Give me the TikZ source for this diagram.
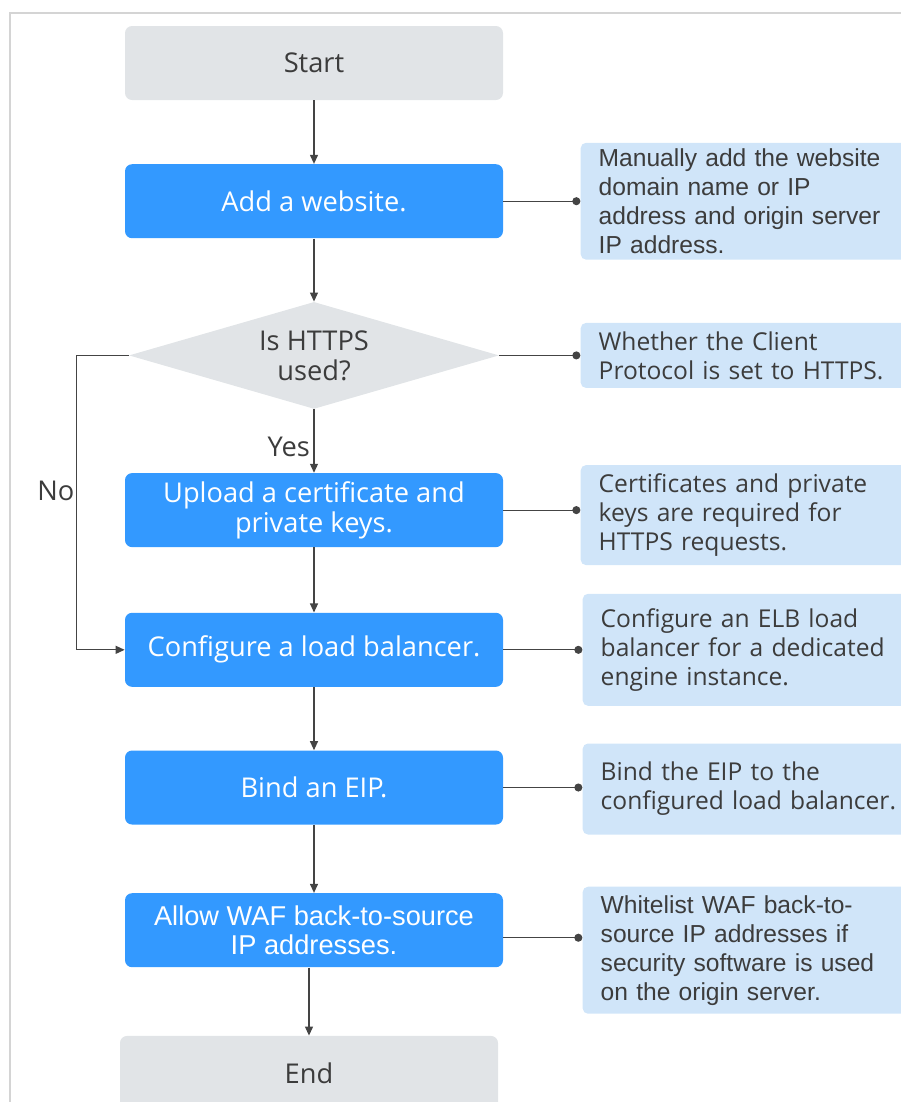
\documentclass[tikz,border=0pt]{standalone}
\usepackage{fontspec}
\setmainfont{Open Sans}
\newfontfamily\arialfont{Liberation Sans}
\usepackage{xcolor}
\usepackage{tikz}
\usetikzlibrary{shapes.geometric, arrows.meta, positioning, calc}
\definecolor{stepblue}{RGB}{51,153,255}
\definecolor{termgray}{RGB}{225,228,231}
\definecolor{noteblue}{RGB}{208,229,249}
\definecolor{linegray}{RGB}{68,68,68}
\definecolor{txtgray}{RGB}{60,60,60}
\definecolor{framegray}{RGB}{212,212,212}

\begin{document}
\begin{tikzpicture}[
    term/.style={rectangle, rounded corners=4pt, fill=termgray, minimum width=7.56cm, minimum height=1.48cm, text=txtgray, font=\fontsize{15.5}{17}\selectfont},
    box/.style={rectangle, rounded corners=4pt, fill=stepblue, minimum width=7.56cm, minimum height=1.48cm, text=white, align=center, font=\fontsize{15.5}{17}\selectfont},
    decision/.style={diamond, aspect=3.46, fill=termgray, minimum width=7.4cm, minimum height=2.14cm, inner sep=0pt, text=txtgray, align=center, font=\fontsize{15.5}{17}\selectfont},
    note/.style={rectangle, rounded corners=3pt, fill=noteblue, text width=6.3cm, align=left, inner xsep=0.36cm, text=txtgray, font=\fontsize{14}{16.5}\selectfont},
    lbl/.style={text=txtgray, font=\fontsize{15.5}{17}\selectfont},
    arr/.style={-{Triangle[length=1.8mm, width=1.6mm]}, line width=0.65pt, linegray},
    dotline/.style={-{Circle[length=1.6mm]}, line width=0.65pt, linegray},
    node distance=1.27cm and 1.54cm,
]
\useasboundingbox (0,0) rectangle (18.02,-22.04);
\draw[framegray, line width=1.6pt] (0.2,-22.2) -- (0.2,-0.26) -- (18.2,-0.26);

\node[term] (start) at (6.28,-1.26) {Start};
\node[box, below=of start]          (add)       {Add a website.};
\node[decision, below=1.26cm of add] (https)    {Is HTTPS\\used?};
\node[box, below=of https]          (upload)    {Upload a certificate and\\private keys.};
\node[box, below=1.3cm of upload]   (configure) {Configure a load balancer.};
\node[box, below=1.26cm of configure] (bind)    {Bind an EIP.};
\node[box, below=1.36cm of bind]    (allow)     {\arialfont Allow WAF back-to-source\\\arialfont IP addresses.};
\node[term, below=1.36cm of allow, xshift=-0.1cm] (end) {End};

\node[note, right=1.54cm of add, minimum height=2.26cm] (addnote)
    {\arialfont Manually add the website\\domain name or IP\\address and origin server\\IP address.};
\node[note, right=1.62cm of https, minimum height=1.3cm] (httpsnote)
    {Whether the Client\\Protocol is set to HTTPS.};
\node[note, right=1.54cm of upload, minimum height=2.0cm, yshift=-0.1cm] (uploadnote)
    {Certificates and private\\keys are required for\\HTTPS requests.};
\node[note, right=1.58cm of configure, minimum height=2.24cm] (confnote)
    {Configure an ELB load\\balancer for a dedicated\\engine instance.};
\node[note, right=1.58cm of bind, minimum height=1.82cm, yshift=-0.03cm] (bindnote)
    {Bind the EIP to the\\configured load balancer.};
\node[note, right=1.58cm of allow, minimum height=2.54cm, yshift=-0.4cm] (allownote)
    {\arialfont Whitelist WAF back-to-\\source IP addresses if\\security software is used\\on the origin server.};

\draw[arr] (start) -- (add);
\draw[arr] (add) -- (https);
\draw[arr] (https) -- node[lbl, left, pos=0.6, inner sep=2pt] {Yes} (upload);
\draw[arr] (upload) -- (configure);
\draw[arr] (configure) -- (bind);
\draw[arr] (bind) -- (allow);
\draw[arr] (end.north |- allow.south) -- (end.north);
\draw[arr] (https.west) -- ++(-1.04,0) |- node[lbl, left, pos=0.23, inner sep=1pt] {No} (configure.west);

\draw[dotline] (add.east) -- (add.east -| addnote.west);
\draw[dotline] (https.east) -- (https.east -| httpsnote.west);
\draw[dotline] (upload.east) -- (upload.east -| uploadnote.west);
\draw[dotline] (configure.east) -- (configure.east -| confnote.west);
\draw[dotline] (bind.east) -- (bind.east -| bindnote.west);
\draw[dotline] ([yshift=-0.15cm]allow.east) -- ([yshift=-0.15cm]allow.east -| allownote.west);
\end{tikzpicture}
\end{document}
